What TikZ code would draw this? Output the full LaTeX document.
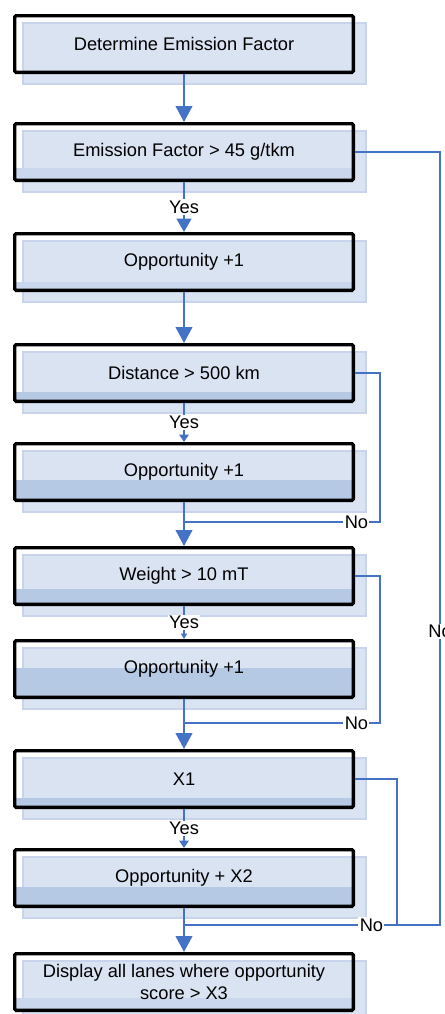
\documentclass[tikz,border=0pt]{standalone}
\usepackage{fontspec}
\setmainfont{Liberation Sans}
\usetikzlibrary{arrows.meta}

\definecolor{flowblue}{RGB}{68,114,196}
\definecolor{shadefill}{RGB}{218,227,242}
\definecolor{shadeline}{RGB}{199,212,235}
\definecolor{bandfill}{RGB}{181,200,228}
\definecolor{bandfaint}{RGB}{203,215,236}

\tikzset{
  stepbox/.style={draw=black, line width=2.5pt, rounded corners=1pt,
    minimum width=254pt, minimum height=42.5pt, inner sep=0pt,
    align=center, font=\fontsize{13.7}{17}\selectfont},
  flow/.style={draw=flowblue, line width=1.5pt},
  bigtip/.style={-{Triangle[width=12.5pt,length=12pt]}},
  midtip/.style={-{Triangle[width=11pt,length=10pt]}},
  smalltip/.style={-{Triangle[width=7pt,length=5.5pt]}},
  tinytip/.style={-{Triangle[width=4.5pt,length=4pt]}},
  answer/.style={fill=white, inner sep=1pt, font=\fontsize{13.7}{17}\selectfont},
}

\begin{document}
\begin{tikzpicture}[x=0.75pt,y=-0.75pt]
        \useasboundingbox (0,0) rectangle (445,1014);

        % Light shadow panels behind the boxes
        \foreach \c in {44,152,262,373,472,576,669,779,878,982} {
            \filldraw[fill=shadefill, draw=shadeline, line width=1.5pt]
                (23,\c-21) rectangle (366,\c+40);
        }

        % Darker bands at the foot of the boxes
        \foreach \ya/\yb/\col in {168/181/bandfaint, 282/291/bandfaint, 392/402/bandfill,
            480/502/bandfill, 589/605/bandfill, 668/698/bandfill, 798/808/bandfill,
            887/907/bandfill, 998/1012/bandfaint} {
            \fill[\col] (16,\ya) rectangle (352,\yb);
        }

        % Boxes
        \node[stepbox] (det)  at (184,44)  {Determine Emission Factor};
        \node[stepbox] (ef)   at (184,152) {Emission Factor > 45 g/tkm};
        \node[stepbox] (op1)  at (184,262) {Opportunity +1};
        \node[stepbox] (dist) at (184,373) {Distance > 500 km};
        \node[stepbox] (op2)  at (184,472) {Opportunity +1};
        \node[stepbox] (wt)   at (184,576) {Weight > 10 mT};
        \node[stepbox] (op3)  at (184,669) {Opportunity +1};
        \node[stepbox] (xone) at (184,779) {X1};
        \node[stepbox] (op4)  at (184,878) {Opportunity + X2};
        \node[stepbox] (disp) at (184,982) {Display all lanes where opportunity\\score > X3};

        % Points where the No branches rejoin
        \coordinate (jdist) at (184,522);
        \coordinate (jwt)   at (184,723);
        \coordinate (jend)  at (184,925);

        % Main line
        \draw[flow, bigtip] (det) -- (ef);
        \draw[flow, midtip] (ef) -- node[answer]{Yes} (op1);
        \draw[flow, bigtip] (op1) -- (dist);
        \draw[flow, smalltip] (dist) -- node[answer]{Yes} (op2);
        \draw[flow, bigtip] (op2) -- (wt);
        \draw[flow, tinytip] (wt) -- node[answer]{Yes} (op3);
        \draw[flow, bigtip] (op3) -- (xone);
        \draw[flow, smalltip] (xone) -- node[answer]{Yes} (op4);
        \draw[flow, bigtip] (op4) -- (disp);

        % No branches
        \draw[flow] (ef.east) -- ++(85,0) |- node[answer, pos=0.31]{No} (jend);
        \draw[flow] (dist.east) -- ++(25,0) |- node[answer, pos=0.56]{No} (jdist);
        \draw[flow] (wt.east) -- ++(25,0) |- node[answer, pos=0.56]{No} (jwt);
        \draw[flow] (xone.east) -- ++(42,0) |- node[answer, pos=0.56]{No} (jend);
    \end{tikzpicture}
\end{document}
